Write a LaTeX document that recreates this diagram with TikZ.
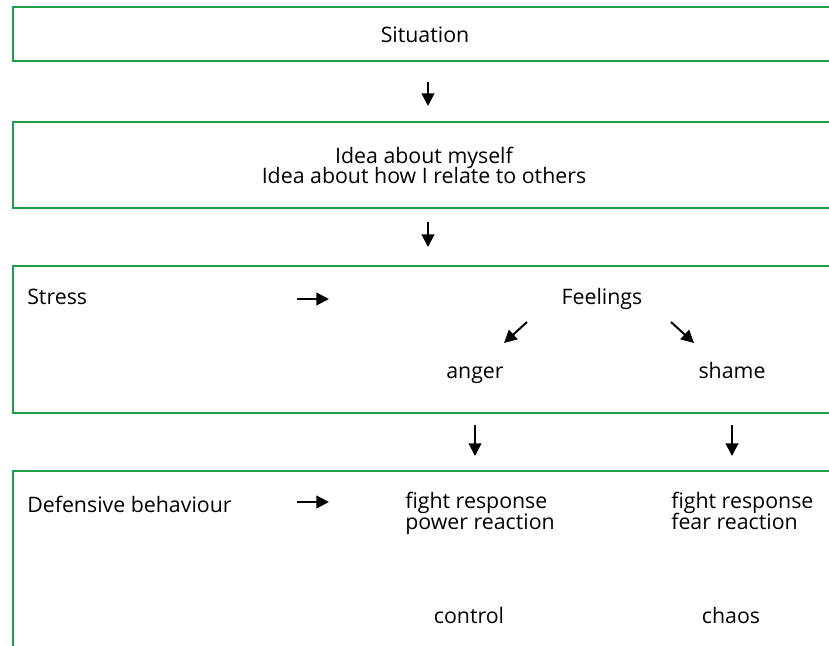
\documentclass[tikz,border=0pt]{standalone}
\usepackage{fontspec}
\setmainfont{Open Sans}
\usetikzlibrary{arrows.meta}
\definecolor{boxgreen}{RGB}{31,158,74}
\tikzset{
  frame/.style={draw=boxgreen, line width=2.2pt},
  lbl/.style={inner sep=0pt, anchor=base, font=\fontsize{16}{15}\selectfont},
  lblw/.style={lbl, anchor=base west},
  arr/.style={line width=1.5pt, -{Triangle[length=9.5pt,width=9.5pt]}}
}
\begin{document}
\begin{tikzpicture}[x=0.75pt,y=-0.75pt]
\useasboundingbox (0,0) rectangle (829,646);
\clip (0,0) rectangle (829,646);

% open frames: left edge, top and bottom run off to the right
\draw[frame] (840,7) -- (13,7) -- (13,61) -- (840,61);
\draw[frame] (840,122) -- (13,122) -- (13,208) -- (840,208);
\draw[frame] (840,266) -- (13,266) -- (13,413) -- (840,413);
\draw[frame] (840,471) -- (13,471) -- (13,660);

% texts
\node[lbl] (situation) at (425,42) {Situation};
\node[lbl] (idea1) at (424,163) {Idea about myself};
\node[lbl] (idea2) at (424,183) {Idea about how I relate to others};
\node[lblw] (stress) at (27,304) {Stress};
\node[lbl] (feelings) at (602,304) {Feelings};
\node[lbl] (anger) at (475,378) {anger};
\node[lbl] (shame) at (732,378) {shame};
\node[lblw] (defense) at (27,512) {Defensive behaviour};
\node[lblw] (fight1) at (405,508) {fight response};
\node[lblw] (power) at (405,529) {power reaction};
\node[lblw] (fight2) at (671,508) {fight response};
\node[lblw] (fear) at (671,529) {fear reaction};
\node[lbl] (control) at (469,623) {control};
\node[lbl] (chaos) at (731,623) {chaos};

% arrow end points
\coordinate (d1s) at (428,82);   \coordinate (d1e) at (428,106);
\coordinate (d2s) at (428,222);  \coordinate (d2e) at (428,247);
\coordinate (r1s) at (297,299);  \coordinate (r1e) at (329,299);
\coordinate (sws) at (527,322);  \coordinate (swe) at (504,343);
\coordinate (ses) at (671,322);  \coordinate (see) at (694,343);
\coordinate (d3s) at (475,425);  \coordinate (d3e) at (475,456);
\coordinate (d4s) at (732,425);  \coordinate (d4e) at (732,456);
\coordinate (r2s) at (297,502);  \coordinate (r2e) at (329,502);

\draw[arr] (d1s) -- (d1e);
\draw[arr] (d2s) -- (d2e);
\draw[arr] (r1s) -- (r1e);
\draw[arr] (sws) -- (swe);
\draw[arr] (ses) -- (see);
\draw[arr] (d3s) -- (d3e);
\draw[arr] (d4s) -- (d4e);
\draw[arr] (r2s) -- (r2e);
\end{tikzpicture}
\end{document}
